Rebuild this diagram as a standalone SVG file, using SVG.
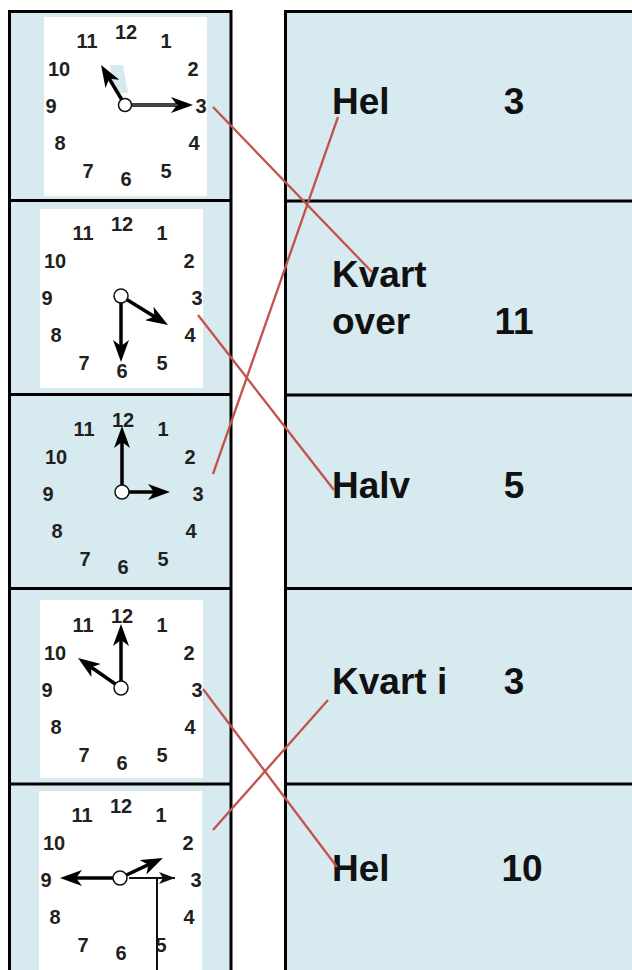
<svg xmlns="http://www.w3.org/2000/svg" xmlns:xlink="http://www.w3.org/1999/xlink" width="632" height="970" viewBox="0 0 632 970">
<style>
.col{fill:#d6eaf0;stroke:#000;stroke-width:3}
.div{stroke:#000;stroke-width:3}
.face{fill:#fff}
.num{font-family:"Liberation Sans",Arial,sans-serif;font-weight:bold;font-size:20px;fill:#231f20;text-anchor:middle}
.lbl{font-family:"Liberation Sans",Arial,sans-serif;font-weight:bold;font-size:37px;fill:#111}
.val{font-family:"Liberation Sans",Arial,sans-serif;font-weight:bold;font-size:37px;fill:#111;text-anchor:middle}
.hand{stroke:#000;stroke-width:3.5;fill:none;marker-end:url(#ah)}
.thin{stroke:#111;stroke-width:2;fill:none}
.hub{fill:#fff;stroke:#111;stroke-width:1.5}
.link{stroke:#c3524a;stroke-width:2.3;fill:none}
</style>
<defs>
<marker id="ah" viewBox="0 0 22 16" refX="12" refY="8" markerWidth="22" markerHeight="16" markerUnits="userSpaceOnUse" orient="auto">
<path d="M0,0 L22,8 L0,16 L6,8 z" fill="#000"/>
</marker>
<marker id="ahs" viewBox="0 0 16 12" refX="16" refY="6" markerWidth="16" markerHeight="12" markerUnits="userSpaceOnUse" orient="auto">
<path d="M0,0 L16,6 L0,12 L4,6 z" fill="#111"/>
</marker>
<g id="numbers" class="num">
<text x="1" y="-65">12</text>
<text x="41" y="-56">1</text>
<text x="68" y="-28">2</text>
<text x="76" y="9">3</text>
<text x="69" y="46">4</text>
<text x="41" y="74">5</text>
<text x="1" y="82">6</text>
<text x="-37" y="74">7</text>
<text x="-65" y="46">8</text>
<text x="-74" y="9">9</text>
<text x="-66" y="-28">10</text>
<text x="-38" y="-56">11</text>
</g>
</defs>

<g id="left-column">
<rect class="col" x="9.5" y="11.5" width="221.5" height="980"/>
<line class="div" x1="9.5" y1="200.5" x2="231" y2="200.5"/>
<line class="div" x1="9.5" y1="394.5" x2="231" y2="394.5"/>
<line class="div" x1="9.5" y1="588.5" x2="231" y2="588.5"/>
<line class="div" x1="9.5" y1="784" x2="231" y2="784"/>
</g>

<g id="right-column">
<rect class="col" x="285.5" y="11.5" width="360" height="980"/>
<line class="div" x1="285.5" y1="201" x2="632" y2="201"/>
<line class="div" x1="285.5" y1="395" x2="632" y2="395"/>
<line class="div" x1="285.5" y1="588.5" x2="632" y2="588.5"/>
<line class="div" x1="285.5" y1="784" x2="632" y2="784"/>
</g>

<g id="clock1">
<rect class="face" x="44" y="17" width="163" height="179"/>
<polygon points="110,65 123,65 128,93 114,93" fill="#d6eaf0"/>
<use xlink:href="#numbers" transform="translate(125,104)"/>
<line class="hand" x1="125" y1="105" x2="183" y2="105" stroke-width="4.5"/>
<line x1="131" y1="105" x2="178" y2="105" stroke="#888" stroke-width="1.2"/>
<line class="hand" x1="125" y1="105" x2="106.2" y2="73.6"/>
<circle class="hub" cx="125" cy="105" r="6.5" fill="none"/>
</g>

<g id="clock2">
<rect class="face" x="40" y="209" width="163" height="179"/>
<use xlink:href="#numbers" transform="translate(121,296)"/>
<line class="hand" x1="121" y1="296" x2="121" y2="352"/>
<line class="hand" x1="121" y1="296" x2="159.5" y2="319.7"/>
<circle class="hub" cx="121" cy="296" r="7"/>
</g>

<g id="clock3">
<use xlink:href="#numbers" transform="translate(122,492)"/>
<line class="hand" x1="122" y1="492" x2="122" y2="436"/>
<line class="hand" x1="122" y1="492" x2="160" y2="492"/>
<circle class="hub" cx="122" cy="492" r="7"/>
</g>

<g id="clock4">
<rect class="face" x="40" y="600" width="163" height="178"/>
<use xlink:href="#numbers" transform="translate(121,688)"/>
<line class="hand" x1="121" y1="688" x2="121" y2="634"/>
<line class="hand" x1="121" y1="688" x2="86.2" y2="663.7"/>
<circle class="hub" cx="121" cy="688" r="7"/>
</g>

<g id="clock5">
<rect class="face" x="39" y="791" width="163" height="179"/>
<use xlink:href="#numbers" transform="translate(120,878)"/>
<line class="hand" x1="120" y1="878" x2="70" y2="878"/>
<line class="hand" x1="120" y1="878" x2="153.9" y2="862.2"/>
<polyline class="thin" points="129,878 175,878" marker-end="url(#ahs)"/>
<line class="thin" x1="157" y1="878" x2="157" y2="970"/>
<circle class="hub" cx="120" cy="878" r="7"/>
</g>

<g id="answer1">
<text class="lbl" x="332" y="114">Hel</text>
<text class="val" x="514" y="114">3</text>
</g>
<g id="answer2">
<text class="lbl" x="332" y="287">Kvart</text>
<text class="lbl" x="332" y="334">over</text>
<text class="val" x="514" y="334">11</text>
</g>
<g id="answer3">
<text class="lbl" x="332" y="498">Halv</text>
<text class="val" x="514" y="498">5</text>
</g>
<g id="answer4">
<text class="lbl" x="332" y="694">Kvart i</text>
<text class="val" x="514" y="694">3</text>
</g>
<g id="answer5">
<text class="lbl" x="332" y="881">Hel</text>
<text class="val" x="522" y="881">10</text>
</g>

<g id="connectors">
<line class="link" x1="213" y1="107" x2="372" y2="272"/>
<line class="link" x1="338" y1="117" x2="213" y2="474"/>
<line class="link" x1="198" y1="315" x2="334" y2="490"/>
<line class="link" x1="203" y1="689" x2="337" y2="867"/>
<line class="link" x1="213" y1="830" x2="328" y2="700"/>
</g>
</svg>
